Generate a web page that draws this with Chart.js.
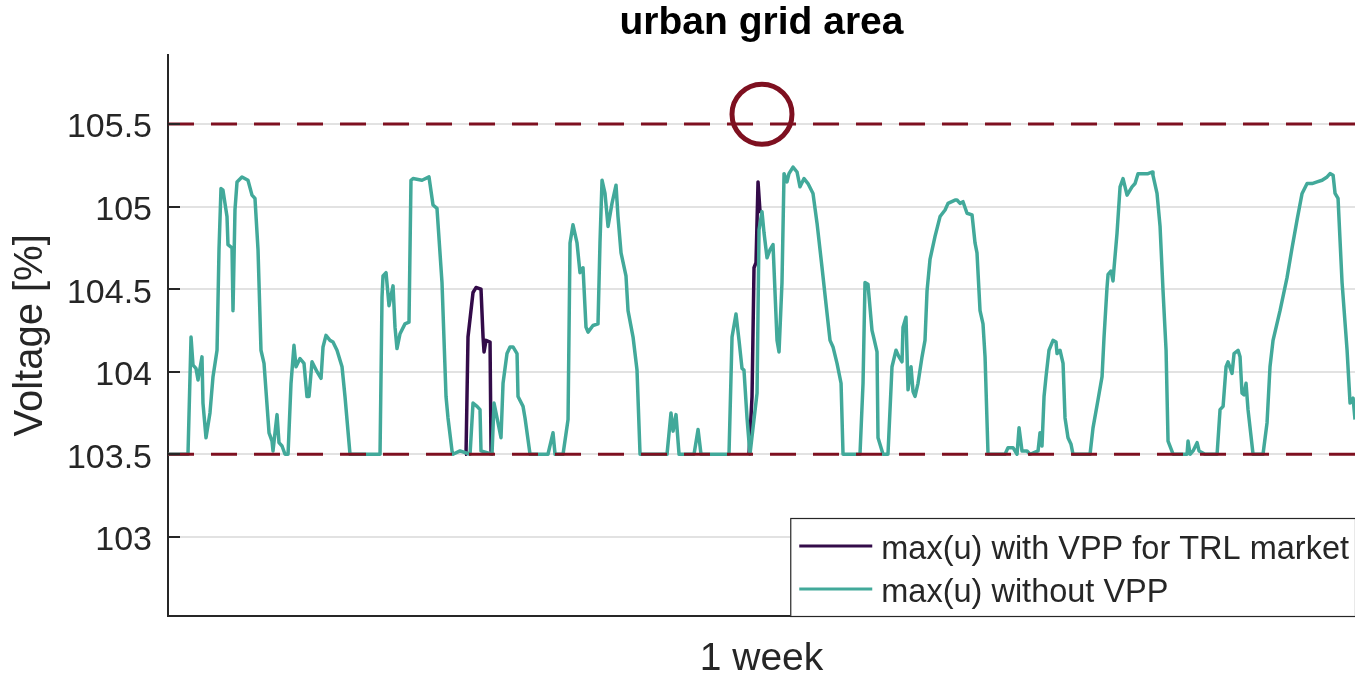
<!DOCTYPE html>
<html>
<head>
<meta charset="utf-8">
<title>urban grid area</title>
<script src="https://cdn.jsdelivr.net/npm/chart.js@4.4.1/dist/chart.umd.min.js"></script>
<style>
  html, body { margin: 0; padding: 0; background: #fff; }
  #wrap { width: 1355px; height: 675px; }
</style>
</head>
<body>
<div id="wrap"><canvas id="voltageChart" width="1355" height="675"></canvas></div>
<script>
// hours over the week / max voltage in % of nominal
const hoursWithoutVpp = [
  0, 2.83, 3.26, 3.54, 3.96, 4.25, 4.81, 4.95, 5.38, 5.94,
  6.37, 6.94, 7.22, 7.5, 7.78, 8.35, 8.49, 9.06, 9.2, 9.48,
  9.77, 10.47, 11.32, 11.89, 12.31, 12.74, 13.16, 13.59, 14.3, 14.72,
  14.86, 15.43, 15.71, 16.14, 16.56, 16.99, 17.41, 17.83, 18.12, 18.68,
  19.25, 19.67, 19.96, 20.38, 21.09, 21.66, 21.94, 22.36, 22.93, 23.35,
  23.92, 24.63, 25.05, 25.76, 30.01, 30.29, 30.43, 30.86, 31.28, 31.85,
  32.13, 32.41, 32.84, 33.54, 34.11, 34.39, 34.68, 35.95, 36.94, 37.51,
  38.07, 38.78, 39.35, 39.63, 40.2, 40.34, 41.33, 42.75, 43.17, 43.74,
  44.16, 44.3, 45.86, 46.14, 46.57, 47.13, 47.42, 47.98, 48.41, 48.83,
  49.4, 49.54, 50.25, 50.53, 51.24, 53.78, 54.49, 54.78, 55.91, 56.62,
  56.9, 57.32, 57.89, 58.31, 58.74, 59.16, 59.45, 60.15, 60.86, 61.14,
  61.43, 61.85, 62.28, 62.84, 63.41, 63.69, 64.12, 64.82, 65.11, 65.82,
  66.38, 66.81, 70.63, 71.19, 71.48, 71.9, 72.33, 74.45, 75.02, 75.44,
  79.4, 79.83, 80.39, 80.82, 81.24, 81.52, 81.95, 82.37, 83.37, 83.65,
  84.07, 84.36, 84.78, 85.21, 85.63, 86.2, 86.48, 86.9, 87.19, 87.61,
  87.89, 88.46, 89.03, 89.45, 90.02, 90.58, 91.29, 91.86, 92.57, 93.13,
  93.7, 94.12, 94.69, 95.26, 95.54, 97.94, 98.37, 98.65, 99.07, 99.64,
  99.92, 100.35, 100.49, 101.2, 101.9, 102.47, 103.04, 103.46, 103.89, 104.03,
  104.45, 104.74, 105.16, 105.45, 105.73, 106.15, 106.72, 107.14, 107.43, 107.85,
  108.56, 109.27, 109.98, 110.4, 111.39, 111.67, 112.1, 112.52, 113.09, 113.8,
  114.22, 114.5, 114.93, 115.35, 115.64, 116.06, 118.47, 118.89, 119.6, 120.17,
  120.45, 120.87, 121.58, 122.01, 123.14, 123.42, 123.7, 123.99, 124.27, 124.69,
  125.26, 125.68, 125.83, 126.25, 126.68, 126.96, 127.38, 127.81, 128.09, 130.5,
  130.92, 131.63, 132.2, 132.48, 132.9, 133.05, 133.47, 133.75, 133.9, 134.32,
  134.75, 135.17, 135.74, 136.44, 136.87, 137.29, 138.0, 138.71, 139.27, 139.41,
  139.98, 140.41, 140.83, 141.26, 141.54, 142.25, 144.23, 144.37, 144.66, 145.08,
  145.65, 145.93, 146.78, 148.48, 148.9, 149.33, 149.75, 150.03, 150.6, 150.88,
  151.45, 151.73, 152.01, 152.3, 152.58, 152.86, 153.57, 154.98, 155.55, 155.97,
  156.4, 157.39, 158.38, 159.09, 159.8, 160.51, 161.22, 161.92, 162.63, 163.34,
  164.05, 164.47, 164.9, 165.18, 165.6, 166.17, 166.88, 167.3, 167.73, 168
];
const voltWithoutVpp = [
  103.5, 103.5, 104.21, 104.04, 104.02, 103.95, 104.09, 103.81, 103.6, 103.75,
  103.97, 104.13, 104.74, 105.11, 105.1, 104.94, 104.77, 104.75, 104.37, 104.98,
  105.15, 105.18, 105.16, 105.07, 105.05, 104.74, 104.13, 104.05, 103.63, 103.58,
  103.52, 103.74, 103.57, 103.55, 103.5, 103.5, 103.93, 104.16, 104.03, 104.08,
  104.05, 103.85, 103.85, 104.06, 104.0, 103.96, 104.15, 104.22, 104.19, 104.18,
  104.13, 104.03, 103.85, 103.5, 103.5, 104.45, 104.58, 104.6, 104.4, 104.52,
  104.27, 104.14, 104.23, 104.29, 104.3, 105.16, 105.17, 105.16, 105.18, 105.01,
  104.99, 104.54, 103.85, 103.72, 103.52, 103.5, 103.52, 103.5, 103.81, 103.79,
  103.77, 103.52, 103.5, 103.81, 103.72, 103.6, 103.93, 104.11, 104.15, 104.15,
  104.11, 103.85, 103.79, 103.72, 103.5, 103.5, 103.63, 103.5, 103.5, 103.71,
  104.78, 104.89, 104.78, 104.6, 104.63, 104.27, 104.24, 104.28, 104.29, 104.78,
  105.16, 105.08, 104.88, 105.02, 105.13, 104.94, 104.72, 104.58, 104.37, 104.21,
  104.01, 103.5, 103.5, 103.75, 103.64, 103.74, 103.5, 103.5, 103.65, 103.5,
  103.5, 104.21, 104.35, 104.19, 104.02, 104.01, 103.72, 103.5, 103.87, 104.86,
  104.97, 104.84, 104.69, 104.74, 104.77, 104.19, 104.12, 104.54, 105.2, 105.15,
  105.2, 105.24, 105.21, 105.12, 105.17, 105.14, 105.08, 104.9, 104.63, 104.41,
  104.19, 104.15, 104.05, 103.93, 103.5, 103.5, 103.93, 104.54, 104.53, 104.25,
  104.2, 104.12, 103.6, 103.5, 103.5, 104.03, 104.13, 104.09, 104.06, 104.27,
  104.33, 103.89, 104.03, 103.88, 103.85, 103.93, 104.09, 104.19, 104.49, 104.68,
  104.82, 104.94, 104.98, 105.02, 105.04, 105.04, 105.02, 105.03, 104.96, 104.95,
  104.78, 104.72, 104.37, 104.29, 104.09, 103.5, 103.5, 103.54, 103.54, 103.5,
  103.66, 103.52, 103.52, 103.5, 103.52, 103.63, 103.55, 103.85, 103.97, 104.13,
  104.19, 104.18, 104.11, 104.13, 104.05, 103.72, 103.6, 103.56, 103.5, 103.5,
  103.66, 103.83, 103.97, 104.21, 104.51, 104.59, 104.61, 104.55, 104.63, 104.84,
  105.12, 105.17, 105.07, 105.12, 105.14, 105.2, 105.2, 105.2, 105.21, 105.19,
  105.08, 104.88, 104.49, 104.13, 103.58, 103.5, 103.5, 103.58, 103.5, 103.52,
  103.57, 103.52, 103.5, 103.5, 103.77, 103.79, 104.03, 104.06, 103.99, 104.11,
  104.13, 104.09, 103.87, 103.86, 103.93, 103.77, 103.5, 103.5, 103.69, 104.03,
  104.19, 104.37, 104.57, 104.75, 104.92, 105.08, 105.14, 105.14, 105.15, 105.16,
  105.18, 105.2, 105.19, 105.08, 105.05, 104.54, 104.13, 103.81, 103.84, 103.71
];
// VPP series only where it departs from the case without VPP (hidden under it elsewhere)
const hoursWithVpp = [42.04, 42.18, 42.46, 43.17, 43.59, 44.3, 44.59, 44.73, 45.01, 45.58, 45.72, 45.86,
  63, 82.23, 82.66, 82.94, 83.22, 83.51, 83.79, 84.07];
const voltWithVpp = [103.5, 103.5, 104.21, 104.48, 104.51, 104.5, 104.21, 104.12, 104.19, 104.18, 103.52, 103.5,
  null, 103.5, 103.85, 104.63, 104.66, 105.15, 104.97, 104.97];

const voltageLimits = [103.5, 105.5];
const weekSpan = [0, 168];
const yTicks = [103, 103.5, 104, 104.5, 105, 105.5];
const markedPeak = { hour: 84.07, volt: 105.56 };

const FONT = '"Liberation Sans", Arial, Helvetica, sans-serif';
const AXIS_COLOR = '#262626';
const LIMIT_COLOR = '#7e1020';

const toPoints = (xs, ys) => xs.map((x, i) => ({ x: x, y: ys[i] }));

const limitDatasets = voltageLimits.map(v => ({
  type: 'line',
  data: weekSpan.map(h => ({ x: h, y: v })),
  borderColor: LIMIT_COLOR,
  borderWidth: 3,
  borderDash: [26, 17],
  pointRadius: 0,
  order: 0
}));

// inward tick marks like the original axes
const innerTicks = {
  id: 'innerTicks',
  afterDatasetsDraw(chart) {
    const { ctx, chartArea, scales } = chart;
    ctx.save();
    ctx.strokeStyle = AXIS_COLOR;
    ctx.lineWidth = 2;
    scales.y.ticks.forEach(t => {
      const py = Math.round(scales.y.getPixelForValue(t.value));
      ctx.beginPath();
      ctx.moveTo(chartArea.left, py);
      ctx.lineTo(chartArea.left + 12, py);
      ctx.stroke();
    });
    ctx.restore();
  }
};

// boxed legend in the lower right corner of the axes
const boxLegend = {
  id: 'boxLegend',
  afterDraw(chart) {
    const { ctx, chartArea } = chart;
    const items = chart.data.datasets.filter(d => d.label);
    ctx.save();
    ctx.font = '32.5px ' + FONT;
    const textW = Math.max(...items.map(d => ctx.measureText(d.label).width));
    const sample = 73;
    const w = 9 + sample + 9 + textW + 6;
    const h = 98;
    const right = chartArea.right;
    const left = right - w;
    const top = chartArea.bottom - h;
    ctx.fillStyle = '#fff';
    ctx.fillRect(left, top, w, h);
    ctx.strokeStyle = AXIS_COLOR;
    ctx.lineWidth = 1.2;
    ctx.strokeRect(left + 0.5, top + 0.5, w, h);
    items.forEach((d, i) => {
      const cy = top + 28 + i * 43;
      ctx.strokeStyle = d.borderColor;
      ctx.lineWidth = 3;
      ctx.beginPath();
      ctx.moveTo(left + 9, cy);
      ctx.lineTo(left + 9 + sample, cy);
      ctx.stroke();
      ctx.fillStyle = AXIS_COLOR;
      ctx.textBaseline = 'middle';
      ctx.fillText(d.label, left + 9 + sample + 9, cy + 4);
    });
    ctx.restore();
  }
};

new Chart(document.getElementById('voltageChart'), {
  type: 'line',
  data: {
    datasets: [
      {
        label: 'max(u) with VPP for TRL market',
        data: toPoints(hoursWithVpp, voltWithVpp),
        borderColor: '#330b49',
        borderWidth: 3.5,
        pointRadius: 0,
        order: 2
      },
      {
        label: 'max(u) without VPP',
        data: toPoints(hoursWithoutVpp, voltWithoutVpp),
        borderColor: '#42a99a',
        borderWidth: 3.5,
        pointRadius: 0,
        order: 1
      },
      ...limitDatasets,
      {
        type: 'line',
        data: [{ x: markedPeak.hour, y: markedPeak.volt }],
        showLine: false,
        pointRadius: 30,
        pointBorderWidth: 5,
        pointBorderColor: LIMIT_COLOR,
        pointBackgroundColor: 'rgba(0,0,0,0)',
        order: 0
      }
    ]
  },
  options: {
    responsive: false,
    animation: false,
    devicePixelRatio: 1,
    layout: { padding: 0, autoPadding: false },
    elements: { line: { borderJoinStyle: 'round' } },
    plugins: {
      legend: { display: false },
      tooltip: { enabled: false },
      title: {
        display: true,
        text: 'urban grid area',
        color: '#000',
        fullSize: false,
        font: { family: FONT, size: 39, weight: 'bold' },
        padding: { top: 0, bottom: 8 }
      }
    },
    scales: {
      x: {
        type: 'linear',
        min: weekSpan[0],
        max: weekSpan[1],
        grid: { display: false },
        ticks: { display: false },
        border: { display: true, color: AXIS_COLOR, width: 2 },
        title: {
          display: true,
          text: '1 week',
          color: AXIS_COLOR,
          font: { family: FONT, size: 39, lineHeight: 0.8 },
          padding: 0
        },
        afterFit: scale => { scale.height = 59; }
      },
      y: {
        min: 102.52,
        max: 105.92,
        afterBuildTicks: axis => { axis.ticks = yTicks.map(v => ({ value: v })); },
        grid: { color: '#e2e2e2', lineWidth: 2, drawTicks: false },
        border: { display: true, color: AXIS_COLOR, width: 2 },
        ticks: {
          color: AXIS_COLOR,
          padding: 16,
          labelOffset: 4,
          font: { family: FONT, size: 34 },
          callback: v => String(v)
        },
        title: {
          display: true,
          text: 'Voltage [%]',
          color: AXIS_COLOR,
          font: { family: FONT, size: 40 },
          padding: { top: 7, bottom: 0 }
        },
        afterFit: scale => { scale.width = 168; }
      }
    }
  },
  plugins: [innerTicks, boxLegend]
});
</script>
</body>
</html>
